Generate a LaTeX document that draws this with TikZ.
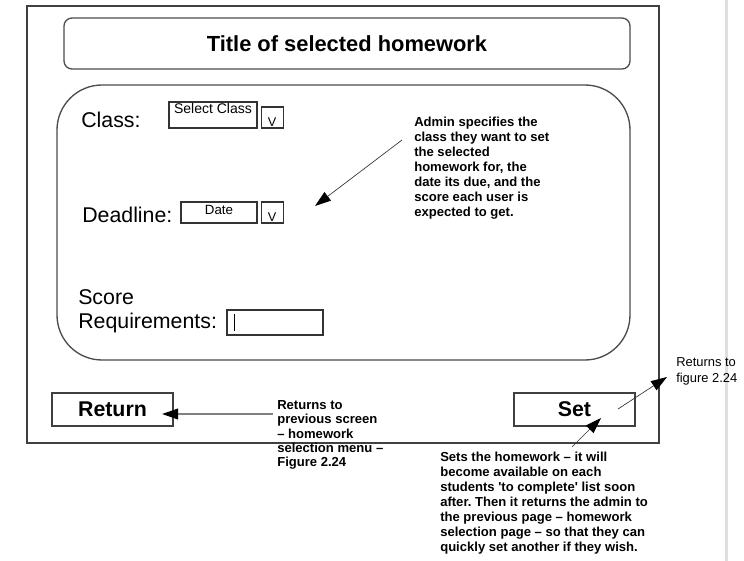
\documentclass[tikz,border=0pt]{standalone}
\usepackage{fontspec}
\setmainfont{Liberation Sans}
\usetikzlibrary{arrows.meta,positioning,calc}
\frenchspacing

\begin{document}
\begin{tikzpicture}[
  x=0.75pt, y=-0.75pt,
  panel/.style={draw=black!70, line width=1pt, inner sep=0pt},
  button/.style={draw=black!75, line width=1.1pt, minimum width=90.75pt, minimum height=24.75pt, inner sep=0pt, font=\bfseries\fontsize{16}{19}\selectfont},
  field/.style={draw=black!80, line width=0.8pt, inner sep=0pt},
  drop/.style={field, minimum width=16.5pt, minimum height=15.75pt},
  lbl/.style={inner sep=0pt, font=\fontsize{16}{18}\selectfont},
  note/.style={anchor=north west, inner sep=0pt, align=left, font=\bfseries\fontsize{9.8}{11.25}\selectfont},
  arr/.style={-{Triangle[length=12pt,width=8pt,color=black]}, draw=black!80, line width=0.5pt}
]
\useasboundingbox (0,0) rectangle (744,561);

% Page edge
\draw[gray!25, line width=2.25pt] (726.5,0) -- (726.5,561);

% Screen frame
\node[draw=black!75, line width=1.1pt, minimum width=474pt, minimum height=327.75pt, inner sep=0pt] (frame) at (343,224.5) {};
\node[panel, rounded corners=6pt, minimum width=424.5pt, minimum height=38.25pt, font=\bfseries\fontsize{16.4}{19}\selectfont] (title) at (347,43.5) {Title of selected homework};
\node[panel, rounded corners=33.75pt, minimum width=429.75pt, minimum height=206.25pt] (form) at (343.5,222.5) {};

% Form fields
\node[lbl, anchor=base west] (class) at (81,127) {Class:};
\node[field, minimum width=66pt, minimum height=19.5pt,
  label={[anchor=north, inner sep=1.5pt, font=\fontsize{10.5}{12}\selectfont]north:Select Class}] (classbox) at (213,115) {};
\node[drop, right=2.25pt of classbox.south east, anchor=south west,
  label={[anchor=south, inner sep=1.5pt, font=\fontsize{9.5}{11}\selectfont]south:V}] (classdrop) {};

\node[lbl, anchor=base west] (deadline) at (82,222) {Deadline:};
\node[field, minimum width=57pt, minimum height=15.75pt,
  label={[anchor=north, inner sep=3pt, font=\fontsize{10}{12}\selectfont]north:Date}] (datebox) at (219,212.5) {};
\node[drop, right=2.25pt of datebox.south east, anchor=south west,
  label={[anchor=south, inner sep=1.5pt, font=\fontsize{9.5}{11}\selectfont]south:V}] (datedrop) {};

\node[lbl, anchor=north west, align=left] (score) at (78,289.5) {Score\\Requirements:};
\node[field, minimum width=72pt, minimum height=18.75pt] (scorebox) at (275,322.5) {};
\draw[line width=0.8pt] ($(scorebox.west)+(8,-8.5)$) -- ($(scorebox.west)+(8,8.5)$);

% Buttons
\node[button] (return) at (112.5,409.5) {Return};
\node[button] (set) at (574.5,409.5) {Set};

% Notes
\node[note] (adminnote) at (414,117) {Admin specifies the\\class they want to set\\the selected\\homework for, the\\date its due, and the\\score each user is\\expected to get.};
\node[note, font=\bfseries\fontsize{9.8}{10.8}\selectfont] (returnnote) at (277,400) {Returns to\\previous screen\\-- homework\\selection menu --\\Figure 2.24};
\node[note] (setnote) at (440,452) {Sets the homework -- it will\\become available on each\\students \textquotesingle to complete\textquotesingle\ list soon\\after. Then it returns the admin to\\the previous page -- homework\\selection page -- so that they can\\quickly set another if they wish.};
\node[note, font=\fontsize{9.7}{12}\selectfont] (fignote) at (676,357) {Returns to\\figure 2.24};

% Arrows
\coordinate (admin from) at (402,140);
\coordinate (admin tip) at (315,206);
\coordinate (return from) at (273,414);
\coordinate (return tip) at (162,414);
\coordinate (set from) at (572,447);
\coordinate (set tip) at (601,418);
\coordinate (fig from) at (618,409);
\coordinate (fig tip) at (667,377);

\draw[arr] (admin from) -- (admin tip);
\draw[arr, draw=black!50, line width=1.1pt] (return from) -- (return tip);
\draw[arr] (set from) -- (set tip);
\draw[arr] (fig from) -- (fig tip);
\end{tikzpicture}
\end{document}
